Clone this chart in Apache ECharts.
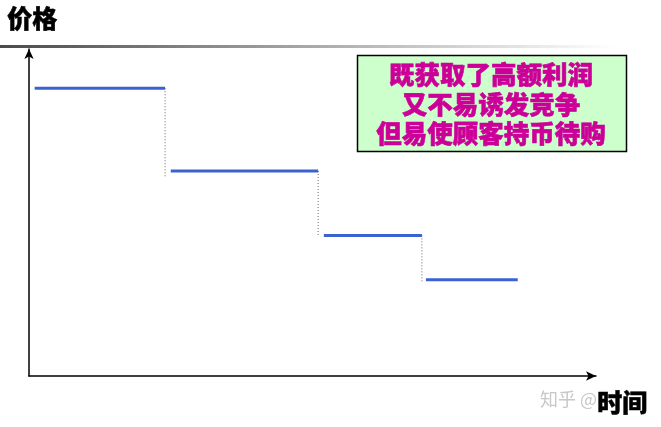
<!DOCTYPE html>
<html>
<head>
<meta charset="utf-8">
<script src="https://cdn.jsdelivr.net/npm/echarts@6/dist/echarts.min.js"></script>
<style>
html,body{margin:0;padding:0;background:#fff;}
#chart{width:661px;height:427px;}
</style>
</head>
<body>
<div id="chart"></div>
<script>
// Price levels for each pricing stage (time start, time end, price)
var stageStart = [1, 25, 52, 70];
var stageEnd   = [24, 51, 69.3, 86.2];
var stagePrice = [88, 62.7, 43, 29.4];
// dotted drop lines: bottom end of each drop
var dropBottom = [60.9, 42.5, 28.7];
var boxLines = ['既获取了高额利润', '又不易诱发竞争', '但易使顾客持币待购'];
var yName = '价格';
var xName = '时间';

var series = [];
for (var i = 0; i < stagePrice.length; i++) {
  series.push({
    type: 'line', silent: true, symbol: 'none', z: 3,
    lineStyle: {color: '#3b62d2', width: 3},
    data: [[stageStart[i], stagePrice[i]], [stageEnd[i], stagePrice[i]]]
  });
}
for (var j = 0; j < dropBottom.length; j++) {
  series.push({
    type: 'line', silent: true, symbol: 'none', z: 2,
    lineStyle: {color: '#666', width: 1, type: [1, 2]},
    data: [[stageEnd[j], stagePrice[j]], [stageEnd[j], dropBottom[j]]]
  });
}

var chart = echarts.init(document.getElementById('chart'));
var FONT = '"Noto Sans CJK SC", sans-serif';
var boxText = {font: '900 25.5px ' + FONT, fill: '#cc0099', align: 'center', verticalAlign: 'middle',
               stroke: '#cc0099', lineWidth: 0.6};
chart.setOption({
  animation: false,
  grid: {left: 29, top: 49, right: 65, bottom: 51},
  xAxis: {
    type: 'value', min: 0, max: 100,
    axisLine: {show: true, lineStyle: {color: '#000', width: 1.5}, symbol: ['none', 'arrow'], symbolSize: [7, 10]},
    axisTick: {show: false}, axisLabel: {show: false}, splitLine: {show: false}
  },
  yAxis: {
    type: 'value', min: 0, max: 100,
    axisLine: {show: true, lineStyle: {color: '#000', width: 1.5}, symbol: ['none', 'arrow'], symbolSize: [7, 10]},
    axisTick: {show: false}, axisLabel: {show: false}, splitLine: {show: false}
  },
  series: series,
  graphic: [
    {type: 'rect', z: 0, shape: {x: 0, y: 45, width: 615, height: 3},
     style: {fill: {type: 'linear', x: 0, y: 0, x2: 1, y2: 0,
       colorStops: [{offset: 0, color: '#4a4a4a'}, {offset: 0.5, color: '#a8a8a8'}, {offset: 1, color: '#ffffff'}]}}},
    {type: 'text', left: 7, top: 6, style: {text: yName, font: '900 25px ' + FONT, fill: '#000', stroke: '#000', lineWidth: 0.5}},
    {type: 'text', left: 540, top: 390, z: 1, style: {text: '知乎 @', font: '18px ' + FONT, fill: '#c8c8c8'}},
    {type: 'text', left: 597, top: 390, z: 5, style: {text: xName, font: '900 25px ' + FONT, fill: '#000', stroke: '#000', lineWidth: 0.5}},
    {type: 'rect', z: 10, shape: {x: 357.5, y: 55.5, width: 269, height: 96},
     style: {fill: '#ccffcc', stroke: '#000', lineWidth: 1.5}},
    {type: 'text', z: 11, x: 491, y: 74, style: Object.assign({text: boxLines[0]}, boxText)},
    {type: 'text', z: 11, x: 491, y: 104, style: Object.assign({text: boxLines[1]}, boxText)},
    {type: 'text', z: 11, x: 491, y: 133, style: Object.assign({text: boxLines[2]}, boxText)}
  ]
});
</script>
</body>
</html>
